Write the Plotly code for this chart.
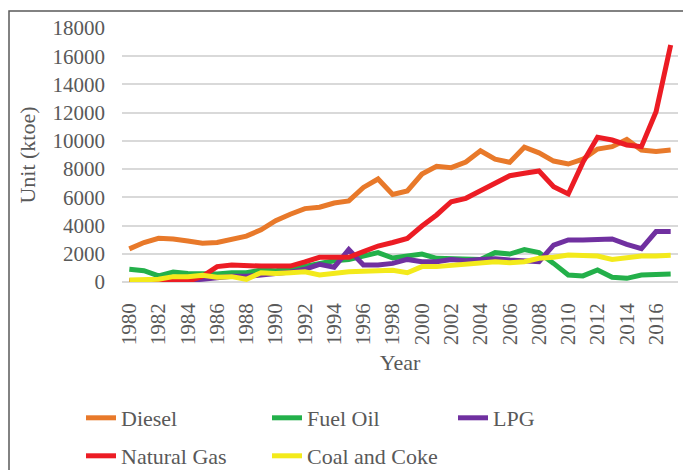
import plotly.graph_objects as go

years = list(range(1980, 2018))

diesel = [2350, 2800, 3100, 3050, 2900, 2750, 2800, 3050, 3250, 3700,
          4350, 4800, 5200, 5300, 5600, 5750, 6700, 7300, 6200, 6450,
          7650, 8200, 8100, 8500, 9300, 8700, 8480, 9550, 9150, 8570,
          8360, 8700, 9420, 9590, 10100, 9350, 9250, 9350]
fuel_oil = [900, 800, 430, 700, 610, 570, 570, 660, 660, 850,
            800, 900, 1090, 1320, 1510, 1600, 1840, 2080, 1700, 1840,
            1980, 1680, 1680, 1600, 1600, 2080, 1980, 2300, 2080, 1320,
            500, 430, 850, 330, 260, 500, 570, 570]
lpg = [100, 100, 50, 50, 100, 200, 300, 400, 400, 500,
       600, 700, 900, 1250, 1050, 2300, 1200, 1200, 1320, 1600,
       1440, 1440, 1600, 1510, 1600, 1650, 1560, 1510, 1440, 2620,
       2980, 2980, 2980, 3050, 2670, 2360, 3570, 3570]
natural_gas = [0, 0, 0, 0, 50, 400, 1090, 1200, 1130, 1130,
               1130, 1130, 1420, 1750, 1750, 1750, 2150, 2550, 2800, 3090,
               3970, 4750, 5690, 5930, 6470, 6990, 7530, 7700, 7870, 6750,
               6240, 8480, 10250, 10060, 9710, 9590, 12070, 16790]
coal_coke = [140, 140, 190, 380, 380, 470, 330, 380, 190, 660,
             610, 660, 730, 500, 660, 730, 760, 800, 830, 660,
             1090, 1090, 1180, 1320, 1390, 1440, 1370, 1440, 1680, 1750,
             1910, 1840, 1840, 1600, 1750, 1840, 1840, 1890]

series_names = ["Diesel", "Fuel Oil", "LPG", "Natural Gas", "Coal and Coke"]
series_values = [diesel, fuel_oil, lpg, natural_gas, coal_coke]
colors = ["#E8792A", "#23B04A", "#7030A0", "#EC1C24", "#F3EA1B"]
legend_ids = ["legend", "legend", "legend", "legend2", "legend2"]

y_ticks = list(range(0, 18001, 2000))

FONT = "Liberation Serif"
GREY = "#595959"

fig = go.Figure()
for name, vals, col, lg in zip(series_names, series_values, colors, legend_ids):
    fig.add_trace(go.Scatter(x=years, y=vals, name=name, mode="lines",
                             line=dict(color=col, width=5), legend=lg))

legend_common = dict(orientation="h", xanchor="left", yanchor="middle",
                     font=dict(family=FONT, size=22, color=GREY),
                     entrywidth=141, bgcolor="rgba(0,0,0,0)", borderwidth=0,
                     itemwidth=30)

fig.update_layout(
    width=683, height=470, autosize=False,
    margin=dict(l=122, r=5, t=28, b=188, autoexpand=False),
    paper_bgcolor="white", plot_bgcolor="white",
    font=dict(family=FONT, size=21, color=GREY),
    showlegend=True,
    legend=dict(x=(81 - 122) / 556, y=(282 - 418) / 254, **legend_common),
    legend2=dict(x=(81 - 122) / 556, y=(282 - 456) / 254, **legend_common),
    xaxis=dict(range=[1979.5, 2017.5], tickmode="linear", tick0=1980, dtick=2,
               tickangle=-90, showgrid=False, zeroline=False, showline=False,
               ticks="", ticklabelstandoff=16, automargin=False,
               tickfont=dict(family=FONT, size=21, color=GREY),
               title=dict(text="Year", font=dict(family=FONT, size=22, color=GREY),
                          standoff=10)),
    yaxis=dict(range=[0, 18000], tickmode="array", tickvals=y_ticks,
               ticktext=[str(v) for v in y_ticks],
               showgrid=True, gridcolor="#D9D9D9", gridwidth=1.5,
               zeroline=True, zerolinecolor="#D9D9D9", zerolinewidth=1.5,
               showline=False, ticks="", ticklabelstandoff=16, automargin=False,
               tickfont=dict(family=FONT, size=21, color=GREY),
               title=dict(text="Unit (ktoe)", font=dict(family=FONT, size=22, color=GREY),
                          standoff=10)),
    shapes=[dict(type="rect", xref="paper", yref="paper",
                 x0=(9 - 122) / 556, x1=(692 - 122) / 556,
                 y0=(282 - 480) / 254, y1=(282 - 11) / 254,
                 line=dict(color="#5A5A5A", width=1.5), fillcolor="rgba(0,0,0,0)",
                 layer="below")],
)

fig.write_html("out.html")
